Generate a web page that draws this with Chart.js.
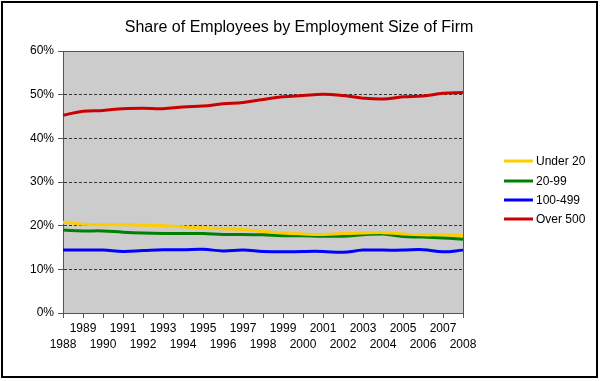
<!DOCTYPE html>
<html>
<head>
<meta charset="utf-8">
<script src="https://cdn.jsdelivr.net/npm/chart.js@4"></script>
<style>
  html, body { margin: 0; padding: 0; background: #fff; }
  #wrap { width: 600px; height: 381px; position: relative; }
</style>
</head>
<body>
<div id="wrap"><canvas id="c" width="600" height="381"></canvas></div>
<script>
const years = ['1988','1989','1990','1991','1992','1993','1994','1995','1996','1997','1998','1999','2000','2001','2002','2003','2004','2005','2006','2007','2008'];
const under20 = [20.8,20.3,20.2,20.2,20.1,20.0,19.7,19.5,19.3,19.1,18.7,18.3,18.1,18.0,18.2,18.3,18.4,18.1,17.9,17.9,17.7];
const size20to99 = [19.0,18.8,18.8,18.5,18.3,18.2,18.2,18.2,18.0,18.0,17.9,17.7,17.7,17.6,17.6,17.9,18.1,17.5,17.4,17.2,16.9];
const size100to499 = [14.4,14.4,14.4,14.1,14.3,14.5,14.5,14.6,14.2,14.4,14.1,14.0,14.1,14.1,13.9,14.4,14.4,14.4,14.5,14.0,14.4];
const over500 = [45.3,46.2,46.4,46.8,46.9,46.8,47.2,47.4,47.9,48.2,48.9,49.5,49.8,50.1,49.8,49.2,49.0,49.5,49.7,50.3,50.5];
const yTicks = [0,10,20,30,40,50,60];
const seriesNames = ['Under 20','20-99','100-499','Over 500'];
const seriesColors = ['#FFCC00','#008000','#0000FF','#CC0000'];
const titleText = 'Share of Employees by Employment Size of Firm';

const FONT = "'Liberation Sans', Arial, sans-serif";

const framePlugin = {
  id: 'frame',
  beforeDraw(chart) {
    const {ctx, chartArea: a} = chart;
    ctx.save();
    ctx.fillStyle = '#CCCCCC';
    ctx.fillRect(a.left, a.top, a.right - a.left, a.bottom - a.top);
    ctx.restore();
  },
  beforeDatasetsDraw(chart) {
    const {ctx, chartArea: a} = chart;
    ctx.save();
    ctx.strokeStyle = '#555555';
    ctx.lineWidth = 1;
    ctx.strokeRect(Math.round(a.left) + 0.5, Math.round(a.top) + 0.5, Math.round(a.right - a.left), Math.round(a.bottom - a.top));
    ctx.restore();
  },
  afterDraw(chart) {
    const ctx = chart.ctx;
    ctx.save();
    // outer border
    ctx.strokeStyle = '#000';
    ctx.lineWidth = 2;
    ctx.strokeRect(2, 2, 595, 375);
    // title
    ctx.fillStyle = '#000';
    ctx.font = '16px ' + FONT;
    ctx.textAlign = 'center';
    ctx.textBaseline = 'middle';
    ctx.fillText(titleText, 299, 28);
    // legend
    ctx.font = '12px ' + FONT;
    ctx.textBaseline = 'middle';
    ctx.textAlign = 'left';
    const ys = [161, 181, 200, 219];
    chart.data.datasets.forEach((ds, i) => {
      ctx.strokeStyle = ds.borderColor;
      ctx.lineWidth = 3;
      ctx.beginPath();
      ctx.moveTo(504, ys[i]);
      ctx.lineTo(533, ys[i]);
      ctx.stroke();
      ctx.fillStyle = '#000';
      ctx.fillText(ds.label, 536, ys[i] + 1);
    });
    ctx.restore();
  }
};

const datasets = [under20, size20to99, size100to499, over500].map((d, i) => ({
  label: seriesNames[i],
  data: d,
  borderColor: seriesColors[i],
  backgroundColor: seriesColors[i],
  borderWidth: 3,
  pointRadius: 0,
  tension: 0.4,
  fill: false
}));

new Chart(document.getElementById('c'), {
  type: 'line',
  data: { labels: years, datasets },
  plugins: [framePlugin],
  options: {
    responsive: false,
    animation: false,
    devicePixelRatio: 1,
    layout: { padding: { left: 0, right: 137, top: 51, bottom: 0 } },
    plugins: {
      legend: { display: false },
      tooltip: { enabled: false },
      title: { display: false }
    },
    scales: {
      x: {
        offset: false,
        afterFit(scale) { scale.height = 68; },
        grid: { drawOnChartArea: false, drawTicks: true, tickLength: 5, tickColor: '#555555', color: '#555555' },
        border: { display: true, color: '#555555', width: 1 },
        ticks: {
          autoSkip: false, maxRotation: 0, minRotation: 0, padding: 3,
          color: '#000',
          font: { family: FONT, size: 12, lineHeight: 1.33 },
          callback(value, index) {
            const l = this.getLabelForValue(value);
            return index % 2 === 0 ? ['', l] : [l];
          }
        }
      },
      y: {
        min: 0, max: 60,
        afterFit(scale) { scale.width = 63; },
        afterBuildTicks(scale) { scale.ticks = yTicks.map(v => ({ value: v })); },
        grid: {
          drawTicks: true, tickLength: 5, tickColor: '#555555',
          color: (c) => (c.tick && (c.tick.value === 0 || c.tick.value === 60)) ? 'rgba(0,0,0,0)' : '#333333',
          lineWidth: 1
        },
        border: { display: true, color: '#555555', width: 1, dash: [3, 2] },
        ticks: {
          padding: 4, color: '#000',
          font: { family: FONT, size: 12 },
          callback: (v) => v + '%'
        }
      }
    }
  }
});
</script>
</body>
</html>
